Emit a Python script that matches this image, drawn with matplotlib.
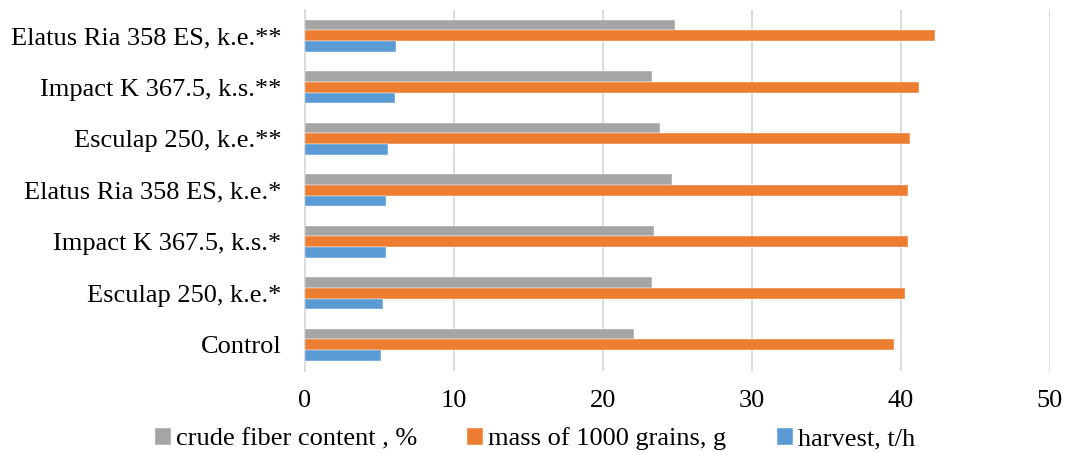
import matplotlib
matplotlib.use("Agg")
import matplotlib.pyplot as plt
import numpy as np

categories = ["Control", "Esculap 250, k.e.*", "Impact K 367.5, k.s.*",
              "Elatus Ria 358 ES, k.e.*", "Esculap 250, k.e.**",
              "Impact K 367.5, k.s.**", "Elatus Ria 358 ES, k.e.**"]
fiber = [22.1, 23.3, 23.4, 24.6, 23.8, 23.3, 24.8]
mass = [39.5, 40.3, 40.5, 40.5, 40.6, 41.2, 42.3]
harvest = [5.1, 5.25, 5.43, 5.45, 5.6, 6.05, 6.1]
xticks = [0, 10, 20, 30, 40, 50]

plt.rcParams['font.family'] = ['Liberation Serif', 'DejaVu Serif']

fig = plt.figure(figsize=(10.68, 4.53), dpi=100)
ax = fig.add_axes([305/1068, 1-370.5/453, 745/1068, 360.5/453])

y = np.arange(len(categories))
h = 0.204
ax.barh(y + h, fiber, height=h, color="#A5A5A5", edgecolor="white", linewidth=0.3,
        label="crude fiber content , %", zorder=3)
ax.barh(y, mass, height=h, color="#ED7D31", edgecolor="white", linewidth=0.3,
        label="mass of 1000 grains, g", zorder=3)
ax.barh(y - h, harvest, height=h, color="#5B9BD5", edgecolor="white", linewidth=0.3,
        label="harvest, t/h", zorder=3)

ax.set_xlim(0, 50)
ax.set_ylim(-0.5, len(categories) - 0.5)
ax.set_xticks(xticks)
ax.set_xticklabels([str(t) for t in xticks])
ax.set_yticks(y)
ax.set_yticklabels(categories)
ax.tick_params(axis='both', length=0, labelsize=19, colors="black")
ax.tick_params(axis='y', pad=17)
ax.tick_params(axis='x', pad=14)
ax.grid(axis='x', color="#D9D9D9", linewidth=1.3, zorder=0)
for s in ["top", "right", "bottom"]:
    ax.spines[s].set_visible(False)
ax.spines["left"].set_color("#D9D9D9")
ax.spines["left"].set_linewidth(1.3)

handles, labels = ax.get_legend_handles_labels()
fig.legend(handles, labels, loc="center", bbox_to_anchor=(535/1068, 1-439/453),
           ncol=3, frameon=False, fontsize=19, handlelength=0.6, handleheight=0.6,
           handletextpad=0.2, columnspacing=1.9)

fig.savefig("out.png", dpi=100)
